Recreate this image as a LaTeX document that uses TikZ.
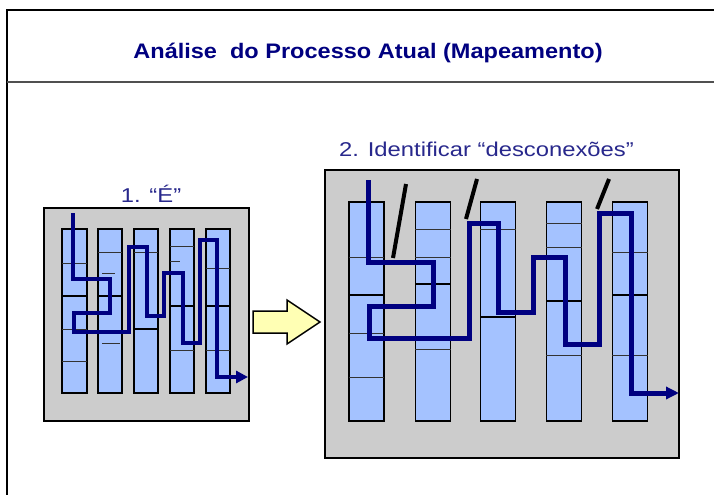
\documentclass[tikz,border=0pt]{standalone}
\usepackage{fontspec}
\setmainfont{Liberation Sans}
\usetikzlibrary{arrows.meta}

\definecolor{flownavy}{RGB}{0,0,128}
\definecolor{panelgray}{RGB}{204,204,204}
\definecolor{lanefill}{RGB}{164,194,255}
\definecolor{hintyellow}{RGB}{255,255,180}
\definecolor{labelblue}{RGB}{40,40,140}
\definecolor{rulegray}{RGB}{80,80,80}

\tikzset{
  panel/.style={draw=black, line width=1.6pt, fill=panelgray, inner sep=0pt},
  lane/.style={draw=black, line width=1.6pt, fill=lanefill, inner sep=0pt},
  divthin/.style={draw=black!80, line width=0.9pt},
  divthick/.style={draw=black, line width=1.6pt},
  flowsmall/.style={draw=flownavy, line width=4pt, miter limit=10,
    -{Triangle[length=12pt,width=12pt]}},
  flowbig/.style={draw=flownavy, line width=5pt, miter limit=10,
    -{Triangle[length=13pt,width=12pt]}},
  breakmark/.style={draw=black, line width=4pt},
  titletext/.style={text=flownavy, font=\fontsize{21}{25}\selectfont\bfseries, inner sep=0pt, anchor=base},
  steplabel/.style={text=labelblue, font=\fontsize{20}{24}\selectfont, inner sep=0pt, anchor=base},
  pointer/.style={draw=black, line width=1.5pt, fill=hintyellow, line join=miter}
}

\begin{document}
\begin{tikzpicture}[x=1pt,y=-1pt]
\useasboundingbox (0,0) rectangle (714,495);
\fill[white] (0,0) rectangle (714,495);

% page frame and title rule
\draw[line width=1.5pt] (714,10) -- (7,10) -- (7,495);
\draw[rulegray, line width=2pt] (7,81.5) -- (714,81.5);
\node[titletext] (title) at (368,59) {\scalebox{1.12}[1]{Análise\ \ do Processo Atual (Mapeamento)}};

% ---------- step 1: current flow ----------
\node[steplabel] (lbl1) at (151,202) {\scalebox{1.19}[1]{1. “É”}};
\node[panel, minimum width=205, minimum height=213] (boxA) at (146.5,314.5) {};

\foreach \x/\n in {74.5/1,110/2,146/3,182/4,218/5}
  \node[lane, minimum width=24.5, minimum height=164] (a\n) at (\x,311) {};

% dividers inside the lanes
\foreach \y in {263,329,361} \draw[divthin] (62,\y) -- (87,\y);
\draw[divthick] (62,296) -- (87,296);
\draw[divthin] (98,252) -- (122,252);
\draw[divthick] (98,296) -- (122,296);
\draw[divthin] (102,273) -- (115,273);
\draw[divthin] (102,343) -- (120,343);
\draw[divthin] (134,252) -- (158,252);
\draw[divthick] (134,329) -- (158,329);
\draw[divthin] (170,246) -- (194,246);
\draw[divthin] (170,261) -- (180,261);
\draw[divthick] (170,306) -- (194,306);
\draw[divthin] (170,350) -- (194,350);
\draw[divthin] (206,268) -- (230,268);
\draw[divthick] (206,306) -- (230,306);
\draw[divthin] (206,350) -- (230,350);

% the winding flow
\coordinate (startA) at (73,213);
\coordinate (endA) at (248,377);
\draw[flowsmall] (startA) -- (73,279) -- (110,279) -- (110,313) -- (74,313)
  -- (74,332) -- (129,332) -- (129,247) -- (147,247) -- (147,316) -- (164,316)
  -- (164,273) -- (183,273) -- (183,343) -- (200,343) -- (200,240) -- (217,240)
  -- (217,377) -- (endA);

% ---------- transition arrow ----------
\draw[pointer] (253,311) -- (287,311) -- (287,300) -- (320,322) -- (287,344)
  -- (287,333) -- (253,333) -- cycle;

% ---------- step 2: disconnections ----------
\node[steplabel] (lbl2) at (486.5,156) {\scalebox{1.19}[1]{2. Identificar “desconexões”}};
\node[panel, minimum width=354, minimum height=288] (boxB) at (502,314) {};

\foreach \x/\n in {366.5/1,433/2,498/3,564/4,630/5}
  \node[lane, minimum width=35, minimum height=219] (b\n) at (\x,311.5) {};

\draw[divthin] (349,257) -- (384,257);
\draw[divthick] (349,295) -- (384,295);
\draw[divthin] (349,333) -- (384,333);
\draw[divthin] (349,377) -- (384,377);
\draw[divthin] (415,229) -- (451,229);
\draw[divthin] (415,257) -- (451,257);
\draw[divthick] (415,284) -- (451,284);
\draw[divthin] (415,349) -- (451,349);
\draw[divthin] (480,229) -- (516,229);
\draw[divthick] (480,317) -- (516,317);
\draw[divthin] (546,223) -- (582,223);
\draw[divthin] (546,247) -- (582,247);
\draw[divthick] (546,301) -- (582,301);
\draw[divthin] (546,355) -- (582,355);
\draw[divthin] (612,252) -- (648,252);
\draw[divthick] (612,295) -- (648,295);
\draw[divthin] (612,355) -- (648,355);

% flow with its broken hand-offs
\coordinate (startB) at (368,180);
\coordinate (endB) at (679,393);
\draw[flowbig] (startB) -- (368,262) -- (433,262) -- (433,306) -- (369,306)
  -- (369,338) -- (469,338) -- (469,223) -- (498,223) -- (498,312) -- (533,312)
  -- (533,257) -- (565,257) -- (565,344) -- (599,344) -- (599,213) -- (631,213)
  -- (631,393) -- (endB);

\draw[breakmark] (406,184) -- (393,258);
\draw[breakmark] (477,179) -- (466,219);
\draw[breakmark] (609,179) -- (597,209);
\end{tikzpicture}
\end{document}
